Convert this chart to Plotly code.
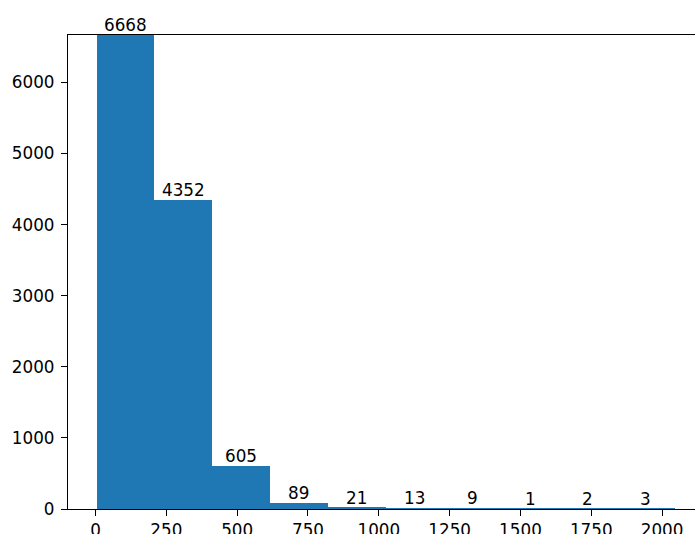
import plotly.graph_objects as go

bin_edges = [4, 208, 412, 616, 820, 1024, 1228, 1432, 1636, 1840, 2044]
counts = [6668, 4352, 605, 89, 21, 13, 9, 1, 2, 3]
x_ticks = [0, 250, 500, 750, 1000, 1250, 1500, 1750, 2000]
y_ticks = [0, 1000, 2000, 3000, 4000, 5000, 6000]

centers = [(a + b) / 2 for a, b in zip(bin_edges[:-1], bin_edges[1:])]
widths = [b - a for a, b in zip(bin_edges[:-1], bin_edges[1:])]

FONT = "DejaVu Sans"
FS = 16.8

fig = go.Figure(go.Bar(
    x=centers, y=counts, width=widths,
    marker=dict(color="#1f77b4", line=dict(width=0)),
    cliponaxis=False,
))

for cx, c in zip(centers, counts):
    fig.add_annotation(
        x=cx, y=c, text=str(c), showarrow=False,
        xanchor="center", yanchor="bottom", yshift=-1, borderpad=0,
        font=dict(family=FONT, size=FS, color="black"),
    )

fig.update_layout(
    width=695, height=534,
    margin=dict(l=68, r=0, t=35, b=25, autoexpand=False),
    plot_bgcolor="white", paper_bgcolor="white",
    showlegend=False,
    font=dict(family=FONT, size=FS, color="black"),
    bargap=0,
)
fig.update_xaxes(
    range=[-97, 2116], tickvals=x_ticks, ticktext=[str(v) for v in x_ticks],
    showgrid=False, zeroline=False, showline=True, linecolor="black", linewidth=1.2,
    mirror=True, ticks="outside", ticklen=6, tickwidth=1.2, tickcolor="black",
    automargin=False,
)
fig.update_yaxes(
    range=[0, 6668], tickvals=y_ticks, ticktext=[str(v) for v in y_ticks],
    showgrid=False, zeroline=False, showline=True, linecolor="black", linewidth=1.2,
    ticks="outside", ticklen=6, tickwidth=1.2, tickcolor="black",
    ticklabelstandoff=3, automargin=False,
)

fig.write_html("out.html")
